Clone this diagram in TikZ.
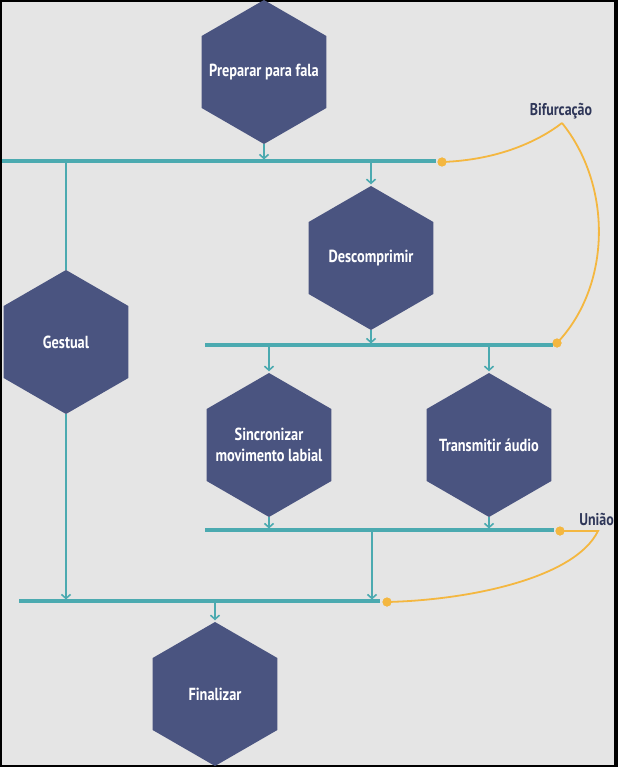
\documentclass[tikz,border=0pt]{standalone}
\usepackage{fontspec}
\setmainfont{PT Sans}[FakeStretch=0.82]
\usetikzlibrary{shapes.geometric,arrows.meta}
\definecolor{bgray}{HTML}{E5E5E5}
\definecolor{hexfill}{HTML}{4A5480}
\definecolor{teal}{HTML}{4BAAB0}
\definecolor{orng}{HTML}{F4B740}
\definecolor{lblcol}{HTML}{2E3658}
\tikzset{
  hexnode/.style={regular polygon, regular polygon sides=6, shape border rotate=30,
    minimum size=144pt, inner sep=0pt, fill=hexfill, draw=none},
  hextext/.style={text=white, font=\fontsize{17.5}{21}\selectfont\bfseries, align=center},
  bus/.style={draw=teal, line width=3.6pt},
  conn/.style={draw=teal, line width=1.8pt},
  arr/.style={conn, -{Straight Barb[length=4pt,width=9pt,line width=1.6pt]}, shorten >=1.5pt},
  dotnode/.style={circle, fill=orng, minimum size=9pt, inner sep=0pt},
  callout/.style={draw=orng, line width=1.8pt},
  lbl/.style={text=lblcol, font=\fontsize{17}{20}\selectfont\bfseries}
}
\begin{document}
\begin{tikzpicture}[x=1pt,y=-1pt]
\useasboundingbox (0,0) rectangle (618,767);
\fill[black] (0,0) rectangle (618,767);
\fill[bgray] (2,2) rectangle (614,765);

% hexagons
\node[hexnode, label={[hextext,name=t1]center:Preparar para fala}] (prep) at (264,72) {};
\node[hexnode, label={[hextext,name=t2]center:Descomprimir}] (desc) at (371,258) {};
\node[hexnode, label={[hextext,name=t3]center:Gestual}] (gest) at (66,342) {};
\node[hexnode, label={[hextext,name=t4]center:{Sincronizar\\movimento labial}}] (sinc) at (269,445) {};
\node[hexnode, label={[hextext,name=t5]center:Transmitir áudio}] (trans) at (489,445) {};
\node[hexnode, label={[hextext,name=t6]center:Finalizar}] (fin) at (215,694) {};

% bus coordinates
\coordinate (b1l) at (2,161);   \coordinate (b1r) at (436,161);
\coordinate (b2l) at (205,345); \coordinate (b2r) at (553,345);
\coordinate (b3l) at (205,530); \coordinate (b3r) at (554,530);
\coordinate (b4l) at (19,601);  \coordinate (b4r) at (380,601);

% orange dots
\node[dotnode] (d1) at (442,162) {};
\node[dotnode] (d2) at (557,343) {};
\node[dotnode] (d3) at (560,531) {};
\node[dotnode] (d4) at (387,602) {};

% connectors
\draw[arr] (prep.south) -- (prep.south |- b1l);
\draw[arr] (desc.north |- b1l) -- (desc.north);
\draw[conn] (gest.north |- b1l) -- (gest.north);
\draw[arr] (desc.south) -- (desc.south |- b2l);
\draw[arr] (sinc.north |- b2l) -- (sinc.north);
\draw[arr] (trans.north |- b2l) -- (trans.north);
\draw[arr] (sinc.south) -- (sinc.south |- b3l);
\draw[arr] (trans.south) -- (trans.south |- b3l);
\coordinate (j3) at (372,530);
\draw[arr] (j3) -- (j3 |- b4l);
\draw[arr] (gest.south) -- (gest.south |- b4l);
\draw[arr] (fin.north |- b4l) -- (fin.north);

% buses
\draw[bus] (b1l) -- (b1r);
\draw[bus] (b2l) -- (b2r);
\draw[bus] (b3l) -- (b3r);
\draw[bus] (b4l) -- (b4r);

% callouts
\node[lbl] (bif) at (561,111) {Bifurcação};
\node[lbl, anchor=east, inner xsep=0pt] (uni) at (614,519) {União};
\coordinate (bt) at (562,123);
\draw[callout] (d1.center) .. controls (500,160) and (540,140) .. (bt);
\draw[callout] (bt) .. controls (612,185) and (612,285) .. (d2.center);
\coordinate (ut) at (598,531);
\draw[callout] (d3.center) -- (ut) .. controls (575,578) and (470,600) .. (d4.center);
\node[dotnode] at (d1) {};
\node[dotnode] at (d2) {};
\node[dotnode] at (d3) {};
\node[dotnode] at (d4) {};
\fill[black] (614,0) rectangle (618,767);
\end{tikzpicture}
\end{document}
